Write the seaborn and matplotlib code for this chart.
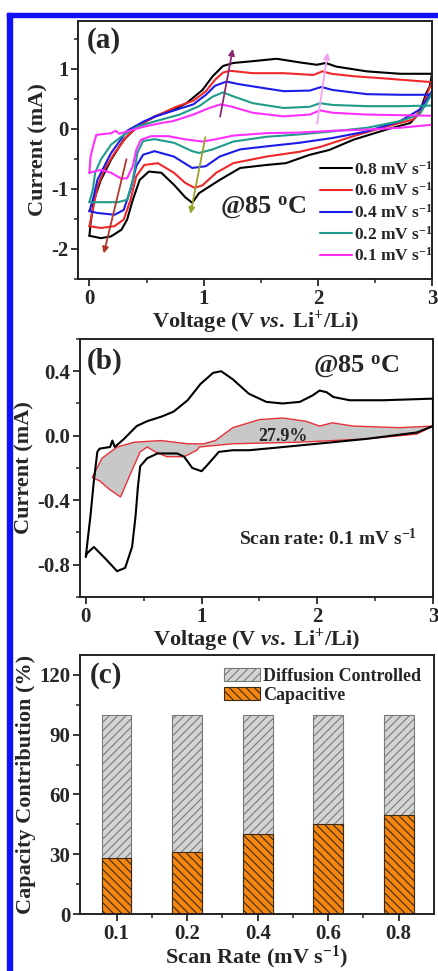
import matplotlib
matplotlib.use('Agg')
import matplotlib.pyplot as plt
from matplotlib.patches import Rectangle
from matplotlib.ticker import MultipleLocator, FixedLocator
import seaborn as sns
import pandas as pd

# ---- (a) CV curves at different scan rates (upper branch 0->3 V, lower branch 3->0 V)
v_up_08 = [0.0, 0.01, 0.04, 0.1, 0.19, 0.3, 0.42, 0.57, 0.74, 0.85, 0.92, 0.99, 1.08, 1.17, 1.26, 1.43, 1.64, 1.84, 1.99, 2.07, 2.16, 2.43, 2.72, 3.0]
i_up_08 = [-1.78, -1.57, -1.18, -0.85, -0.51, -0.18, 0.04, 0.21, 0.32, 0.43, 0.54, 0.65, 0.88, 1.05, 1.1, 1.13, 1.17, 1.11, 1.07, 1.1, 1.04, 0.96, 0.92, 0.92]
v_dn_08 = [2.98, 2.95, 2.89, 2.81, 2.6, 2.31, 2.1, 1.93, 1.72, 1.55, 1.32, 1.14, 1.05, 0.96, 0.9, 0.84, 0.74, 0.63, 0.52, 0.44, 0.38, 0.33, 0.28, 0.19, 0.1, 0.0]
i_dn_08 = [0.71, 0.6, 0.27, 0.1, -0.01, -0.18, -0.35, -0.43, -0.57, -0.6, -0.65, -0.85, -0.96, -1.07, -1.23, -1.14, -0.93, -0.73, -0.71, -0.85, -1.18, -1.51, -1.68, -1.79, -1.82, -1.78]

v_up_06 = [0.0, 0.03, 0.07, 0.13, 0.22, 0.33, 0.45, 0.6, 0.76, 0.91, 1.02, 1.1, 1.17, 1.23, 1.43, 1.7, 1.96, 2.04, 2.12, 2.31, 2.6, 3.0]
i_up_06 = [-1.62, -1.35, -0.96, -0.68, -0.4, -0.12, 0.08, 0.23, 0.37, 0.47, 0.63, 0.82, 0.94, 0.97, 0.93, 0.93, 0.9, 0.96, 0.92, 0.88, 0.84, 0.78]
v_dn_06 = [2.97, 2.92, 2.84, 2.6, 2.31, 2.02, 1.84, 1.55, 1.26, 1.11, 0.99, 0.92, 0.84, 0.74, 0.6, 0.48, 0.41, 0.36, 0.3, 0.22, 0.1, 0.0]
i_dn_06 = [0.65, 0.38, 0.16, 0.04, -0.12, -0.3, -0.38, -0.46, -0.57, -0.73, -0.94, -0.98, -0.9, -0.73, -0.57, -0.6, -0.79, -1.18, -1.51, -1.62, -1.65, -1.62]

v_up_04 = [0.0, 0.03, 0.07, 0.13, 0.19, 0.33, 0.48, 0.58, 0.76, 0.91, 1.02, 1.1, 1.2, 1.3, 1.43, 1.7, 1.93, 2.03, 2.13, 2.43, 2.72, 3.0]
i_up_04 = [-1.37, -1.18, -0.85, -0.62, -0.4, -0.03, 0.13, 0.21, 0.32, 0.41, 0.57, 0.72, 0.79, 0.75, 0.71, 0.63, 0.64, 0.7, 0.65, 0.58, 0.57, 0.57]
v_dn_04 = [3.0, 2.97, 2.89, 2.72, 2.43, 2.13, 1.84, 1.55, 1.32, 1.14, 1.02, 0.9, 0.74, 0.57, 0.47, 0.41, 0.36, 0.3, 0.22, 0.07, 0.0]
i_dn_04 = [0.63, 0.54, 0.32, 0.13, -0.04, -0.15, -0.23, -0.29, -0.34, -0.46, -0.62, -0.65, -0.46, -0.37, -0.43, -0.62, -1.01, -1.35, -1.43, -1.4, -1.37]

v_up_02 = [0.0, 0.03, 0.05, 0.1, 0.19, 0.3, 0.42, 0.58, 0.79, 0.96, 1.08, 1.17, 1.25, 1.43, 1.7, 1.93, 2.02, 2.13, 2.43, 2.72, 3.0]
i_up_02 = [-1.22, -1.01, -0.73, -0.51, -0.26, -0.1, 0.04, 0.13, 0.24, 0.38, 0.54, 0.61, 0.55, 0.43, 0.35, 0.37, 0.43, 0.4, 0.38, 0.38, 0.39]
v_dn_02 = [3.0, 2.97, 2.89, 2.72, 2.43, 2.13, 1.84, 1.55, 1.26, 1.08, 0.96, 0.9, 0.74, 0.57, 0.47, 0.42, 0.38, 0.33, 0.25, 0.07, 0.0]
i_dn_02 = [0.6, 0.49, 0.24, 0.13, 0.02, -0.04, -0.09, -0.13, -0.21, -0.34, -0.4, -0.37, -0.23, -0.17, -0.2, -0.4, -0.85, -1.18, -1.22, -1.22, -1.22]

v_up_01 = [0.0, 0.01, 0.04, 0.06, 0.1, 0.19, 0.23, 0.26, 0.33, 0.48, 0.63, 0.73, 0.91, 1.05, 1.15, 1.25, 1.43, 1.7, 1.93, 2.02, 2.13, 2.43, 3.0]
i_up_01 = [-0.73, -0.46, -0.23, -0.1, -0.09, -0.07, -0.03, -0.08, -0.04, 0.04, 0.1, 0.13, 0.24, 0.35, 0.41, 0.37, 0.27, 0.21, 0.24, 0.31, 0.27, 0.24, 0.22]
v_dn_01 = [3.0, 2.72, 2.43, 2.13, 1.84, 1.55, 1.26, 1.11, 0.99, 0.83, 0.69, 0.54, 0.45, 0.41, 0.38, 0.33, 0.28, 0.19, 0.1, 0.0]
i_dn_01 = [0.07, 0.02, -0.01, -0.03, -0.06, -0.07, -0.11, -0.17, -0.21, -0.17, -0.12, -0.12, -0.18, -0.35, -0.62, -0.82, -0.83, -0.73, -0.68, -0.73]

rates = ['0.8', '0.6', '0.4', '0.2', '0.1']
colors_a = ['#000000', '#f0282a', '#1c1ce6', '#1f9c8c', '#ff30ff']

# ---- (b) CV at 0.1 mV/s and capacitive contour
v_up_b = [0.0, 0.04, 0.07, 0.1, 0.12, 0.21, 0.23, 0.25, 0.33, 0.44, 0.53, 0.66, 0.76, 0.88, 0.99, 1.1, 1.17, 1.27, 1.41, 1.56, 1.7, 1.85, 1.96, 2.02, 2.08, 2.14, 2.28, 2.57, 3.0]
i_up_b = [-0.75, -0.5, -0.28, -0.1, -0.08, -0.07, -0.03, -0.07, -0.02, 0.06, 0.09, 0.12, 0.15, 0.22, 0.32, 0.39, 0.4, 0.35, 0.26, 0.21, 0.2, 0.21, 0.25, 0.28, 0.27, 0.24, 0.22, 0.22, 0.23]
v_dn_b = [3.0, 2.86, 2.42, 2.14, 1.85, 1.56, 1.41, 1.27, 1.15, 1.04, 1.0, 0.92, 0.85, 0.79, 0.62, 0.53, 0.47, 0.45, 0.43, 0.4, 0.34, 0.27, 0.18, 0.07, 0.01, 0.0]
i_dn_b = [0.06, 0.02, -0.02, -0.04, -0.06, -0.08, -0.09, -0.09, -0.1, -0.19, -0.22, -0.2, -0.13, -0.11, -0.11, -0.14, -0.19, -0.32, -0.5, -0.69, -0.82, -0.84, -0.77, -0.69, -0.73, -0.75]

v_cap_up = [0.055, 0.14, 0.27, 0.42, 0.65, 0.88, 1.02, 1.12, 1.27, 1.5, 1.7, 1.9, 2.02, 2.13, 2.31, 2.71, 3.0]
i_cap_up = [-0.26, -0.14, -0.07, -0.04, -0.03, -0.05, -0.05, -0.03, 0.05, 0.1, 0.11, 0.09, 0.06, 0.08, 0.06, 0.05, 0.06]
v_cap_dn = [3.0, 2.86, 2.42, 1.85, 1.27, 0.98, 0.96, 0.85, 0.7, 0.6, 0.53, 0.47, 0.39, 0.3, 0.2, 0.12, 0.055]
i_cap_dn = [0.06, 0.01, -0.02, -0.04, -0.05, -0.07, -0.09, -0.13, -0.13, -0.1, -0.07, -0.1, -0.23, -0.38, -0.33, -0.28, -0.26]

# ---- (c) capacity contribution
scan_rates = ['0.1', '0.2', '0.4', '0.6', '0.8']
capacitive = [27.9, 31.0, 40.0, 45.3, 49.6]
total = [100, 100, 100, 100, 100]

sns.set_style('ticks')
plt.rcParams['font.family'] = ['Liberation Serif', 'DejaVu Serif']
plt.rcParams['font.weight'] = 'bold'
plt.rcParams['axes.labelweight'] = 'bold'
plt.rcParams['mathtext.fontset'] = 'custom'
plt.rcParams['mathtext.rm'] = 'Liberation Serif:bold'
plt.rcParams['mathtext.bf'] = 'Liberation Serif:bold'
plt.rcParams['mathtext.it'] = 'Liberation Serif:italic:bold'
plt.rcParams['axes.unicode_minus'] = False
plt.rcParams['hatch.linewidth'] = 0.8
plt.rcParams['lines.solid_joinstyle'] = 'round'

fig = plt.figure(figsize=(4.39, 9.71), dpi=100)
ax1 = fig.add_axes([0.1777, 0.7127, 0.8064, 0.2657])
ax2 = fig.add_axes([0.1822, 0.3852, 0.8041, 0.2657])
ax3 = fig.add_axes([0.1822, 0.0587, 0.8064, 0.2667])

TICK = 15
LAB = 16
xlab = 'Voltage (V $\\mathit{vs.}$ Li$^{+}$/Li)'

for ax in (ax1, ax2, ax3):
    for s in ax.spines.values():
        s.set_linewidth(1.4)
        s.set_color('#222222')
    ax.tick_params(which='major', direction='out', length=5, width=1.3, labelsize=TICK, pad=2)
    ax.tick_params(which='minor', direction='out', length=3, width=1.1)
    ax.tick_params(top=False, right=False)

# ---- panel (a)
ups = [(v_up_08, i_up_08), (v_up_06, i_up_06), (v_up_04, i_up_04), (v_up_02, i_up_02), (v_up_01, i_up_01)]
dns = [(v_dn_08, i_dn_08), (v_dn_06, i_dn_06), (v_dn_04, i_dn_04), (v_dn_02, i_dn_02), (v_dn_01, i_dn_01)]
frames = []
for r, (vu, iu), (vd, idn) in zip(rates, ups, dns):
    lab = r + ' mV s$^{-1}$'
    frames.append(pd.DataFrame({'V': vu + vd, 'I': iu + idn, 'rate': lab}))
dfa = pd.concat(frames, ignore_index=True)
labels_a = [r + ' mV s$^{-1}$' for r in rates]
sns.lineplot(data=dfa, x='V', y='I', hue='rate', hue_order=labels_a,
             palette=colors_a, sort=False, estimator=None, lw=1.5, ax=ax1)

arrows = [((0.33, -0.46), (0.12, -2.12), '#b2382c'),
          ((1.02, -0.09), (0.88, -1.46), '#9aa22a'),
          ((1.14, 0.16), (1.26, 1.38), '#8c2a70'),
          ((1.99, 0.04), (2.09, 1.32), '#f2a0f0')]
for (x0, y0), (x1, y1), c in arrows:
    ax1.annotate('', xy=(x1, y1), xytext=(x0, y0),
                 arrowprops=dict(arrowstyle='-|>', color=c, lw=1.3, mutation_scale=9))

ax1.set_xlim(-0.1, 3.0)
ax1.set_ylim(-2.5, 1.8)
ax1.set_xticks([0, 1, 2, 3])
ax1.set_yticks([-2, -1, 0, 1])
ax1.xaxis.set_minor_locator(MultipleLocator(0.5))
ax1.yaxis.set_minor_locator(MultipleLocator(0.5))
ax1.set_xlabel(xlab, fontsize=LAB, labelpad=0)
ax1.set_ylabel('Current (mA)', fontsize=LAB, labelpad=2)
h, l = ax1.get_legend_handles_labels()
ax1.legend(h, l, loc='upper left', bbox_to_anchor=(0.655, 0.5), frameon=False,
           fontsize=12.5, handlelength=1.8, handletextpad=0.15, labelspacing=0.22,
           borderpad=0.1)
ax1.text(0.025, 0.975, '(a)', transform=ax1.transAxes, fontsize=21, va='top', ha='left')
ax1.text(1.52, -1.31, '@85 $^{\\mathrm{o}}$C', fontsize=19, ha='center', va='center')

# ---- panel (b)
ax2.fill(v_cap_up + v_cap_dn, i_cap_up + i_cap_dn, facecolor='#c8c8c8',
         edgecolor='#e8323a', lw=1.0, zorder=2)
dfb = pd.DataFrame({'V': v_up_b + v_dn_b, 'I': i_up_b + i_dn_b})
sns.lineplot(data=dfb, x='V', y='I', sort=False, estimator=None, color='black', lw=1.5, ax=ax2, zorder=3)
ax2.set_xlim(-0.05, 3.0)
ax2.set_ylim(-1.0, 0.6)
ax2.set_xticks([0, 1, 2, 3])
ax2.set_yticks([-0.8, -0.4, 0.0, 0.4])
ax2.xaxis.set_minor_locator(MultipleLocator(0.5))
ax2.yaxis.set_minor_locator(MultipleLocator(0.2))
ax2.set_xlabel(xlab, fontsize=LAB, labelpad=0)
ax2.set_ylabel('Current (mA)', fontsize=LAB, labelpad=2)
ax2.text(0.02, 0.965, '(b)', transform=ax2.transAxes, fontsize=21, va='top', ha='left')
ax2.text(2.34, 0.43, '@85 $^{\\mathrm{o}}$C', fontsize=19, ha='center', va='center')
ax2.text(1.7, -0.005, '27.9%', fontsize=13, ha='center', va='center', zorder=4)
ax2.text(2.09, -0.64, 'Scan rate: 0.1 mV s$^{-1}$', fontsize=14, ha='center', va='center')

# ---- panel (c)
sns.barplot(x=scan_rates, y=total, color='#d4d4d4', saturation=1, edgecolor='#7a7a7a', hatch='////',
            linewidth=0.8, width=0.42, label='Diffusion Controlled', ax=ax3)
sns.barplot(x=scan_rates, y=capacitive, color='#f5870f', saturation=1, edgecolor='#3a2a1a',
            hatch='\\\\\\\\', linewidth=0.8, width=0.42, label='Capacitive', ax=ax3)
ax3.set_xlim(-0.52, 4.5)
ax3.set_ylim(0, 130)
ax3.set_yticks([0, 30, 60, 90, 120])
ax3.yaxis.set_minor_locator(MultipleLocator(15))
ax3.xaxis.set_minor_locator(FixedLocator([0.5, 1.5, 2.5, 3.5]))
ax3.set_xlabel('Scan Rate (mV s$^{-1}$)', fontsize=LAB, labelpad=0)
ax3.set_ylabel('Capacity Contribution (%)', fontsize=LAB, labelpad=2)
h, l = ax3.get_legend_handles_labels()
ax3.legend(h, l, loc='upper right', bbox_to_anchor=(1.0, 1.0), frameon=False, fontsize=13,
           handlelength=2.0, handleheight=0.8, handletextpad=0.2, labelspacing=0.1, borderpad=0.2)
ax3.text(0.028, 0.975, '(c)', transform=ax3.transAxes, fontsize=21, va='top', ha='left')

# blue frame of the original figure
fig.add_artist(Rectangle((7 / 439, 0), 5 / 439, 1 - 13 / 971, color='#1010ff', transform=fig.transFigure))
fig.add_artist(Rectangle((7 / 439, 1 - 17 / 971), 1, 4 / 971, color='#1010ff', transform=fig.transFigure))

fig.savefig('out.png', dpi=100)
